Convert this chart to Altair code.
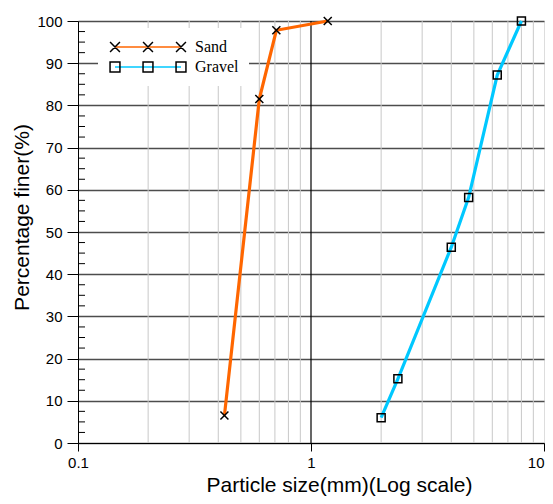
import altair as alt
import pandas as pd

# ---- data ----
sand_size = [0.425, 0.6, 0.71, 1.18]
sand_pct = [6.5, 81.5, 97.8, 100]
gravel_size = [2.0, 2.36, 4.0, 4.75, 6.3, 8.0]
gravel_pct = [6.0, 15.2, 46.4, 58.2, 87.2, 100]
series_names = ["Sand", "Gravel"]
series_colors = ["#ff6600", "#00c8ff"]
x_ticks = [0.1, 1, 10]
x_minor = [0.2, 0.3, 0.4, 0.5, 0.6, 0.7, 0.8, 0.9, 2, 3, 4, 5, 6, 7, 8, 9]
x_major_line = [1]
y_ticks = [0, 10, 20, 30, 40, 50, 60, 70, 80, 90, 100]
y_minor = [v / 10 for v in range(25, 1000, 25) if v % 100 != 0]

df = pd.DataFrame({
    "size": sand_size + gravel_size,
    "pct": sand_pct + gravel_pct,
    "Series": ["Sand"] * len(sand_size) + ["Gravel"] * len(gravel_size),
})
df_xminor = pd.DataFrame({"size": x_minor})
df_xmajor = pd.DataFrame({"size": x_major_line})
df_yminor = pd.DataFrame({"pct": y_minor})

xs = alt.Scale(type="log", domain=[0.1, 10], nice=False)
ys = alt.Scale(domain=[0, 100], nice=False, zero=False)

x_axis = alt.Axis(values=x_ticks, format="~g", grid=False, tickSize=8, tickColor="black",
                  domainColor="black", labelFontSize=15, labelPadding=4, labelFlush=False,
                  labelAlign=alt.ExprRef(expr="datum.value >= 10 ? 'right' : 'center'"),
                  labelFont="Liberation Sans", labelColor="black",
                  title="Particle size(mm)(Log scale)", titleFont="Liberation Sans",
                  titleFontSize=21, titleFontWeight="normal", titleColor="black",
                  titleX=261, titleY=48, titleAlign="center", titleBaseline="alphabetic")
y_axis = alt.Axis(values=y_ticks, grid=True, gridColor="#4d4d4d", gridWidth=1.5, gridOpacity=1,
                  tickSize=11, tickColor="black", domainColor="black", labelFontSize=15,
                  labelPadding=5, labelFont="Liberation Sans", labelColor="black",
                  title="Percentage finer(%)", titleFont="Liberation Sans", titleFontSize=21,
                  titleFontWeight="normal", titleColor="black",
                  titleX=-50, titleY=196, titleAlign="center", titleBaseline="alphabetic",
                  titleAngle=270)

X = alt.X("size:Q", scale=xs, axis=x_axis)
Y = alt.Y("pct:Q", scale=ys, axis=y_axis)

cross_path = "M-1,-1L1,1M-1,1L1,-1"
h = 0.15
cross3 = "".join(
    f"M{c - h},{-h}L{c + h},{h}M{c - h},{h}L{c + h},{-h}" for c in (-1, 0, 1)
)
square3 = "".join(
    f"M{c - h},{-h}H{c + h}V{h}H{c - h}Z" for c in (-1, 0, 1)
)

leg_common = dict(orient="none", legendX=20, legendY=7, title=None, padding=10,
                  clipHeight=18, rowPadding=2, labelFont="Liberation Serif",
                  labelFontSize=16, labelColor="black", labelOffset=13, symbolSize=4356,
                  symbolOffset=6)

minor_grid = alt.Chart(df_xminor).mark_rule(color="#c8c8c8", strokeWidth=1).encode(x=X)
major_line = alt.Chart(df_xmajor).mark_rule(color="black", strokeWidth=1.2).encode(x=X)
y_minor_ticks = alt.Chart(df_yminor).mark_rule(color="black", strokeWidth=1).encode(
    y=Y, x=alt.value(0), x2=alt.value(7))

lines = alt.Chart(df).mark_line(strokeWidth=3.2).encode(
    x=X, y=Y,
    color=alt.Color("Series:N", scale=alt.Scale(domain=series_names, range=series_colors),
                    legend=alt.Legend(fillColor="white", labelOpacity=0, **leg_common)),
)
markers = alt.Chart(df).mark_point(filled=False, color="black", strokeWidth=1.5, opacity=1).encode(
    x=X, y=Y,
    shape=alt.Shape("Series:N", scale=alt.Scale(domain=series_names, range=[cross_path, "square"]),
                    legend=None),
    size=alt.value(64),
)
ghost = alt.Chart(df).transform_filter("datum.pct > 1000").transform_calculate(
    SeriesB="datum.Series"
).mark_point(filled=False, color="black", strokeWidth=1.5, opacity=1).encode(
    x=X, y=Y,
    shape=alt.Shape("SeriesB:N", scale=alt.Scale(domain=series_names, range=[cross3, square3]),
                    legend=alt.Legend(**leg_common)),
)

chart = alt.layer(minor_grid, major_line, y_minor_ticks, lines, markers, ghost).resolve_scale(
    shape="independent"
).properties(
    width=466, height=422,
    autosize=alt.AutoSizeParams(type="none"),
    padding={"left": 70, "top": 13, "right": 1, "bottom": 53},
).configure_view(stroke="black", strokeWidth=1.2).configure(background="white")

chart.save("out.html", embed_options={"renderer": "svg", "actions": False})
